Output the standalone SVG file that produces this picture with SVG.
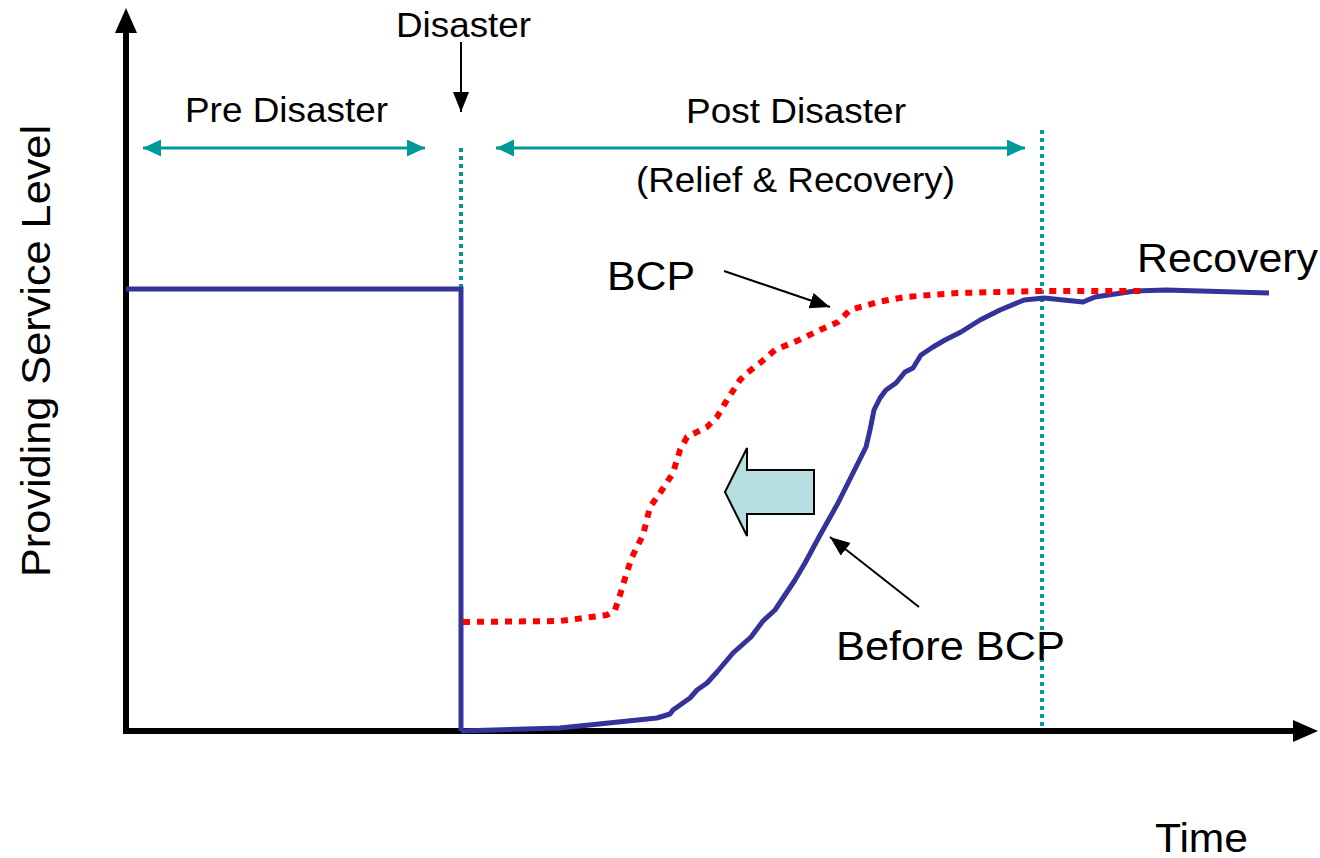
<svg xmlns="http://www.w3.org/2000/svg" width="1320" height="858" viewBox="0 0 1320 858">
<style>
text{font-family:"Liberation Sans",Arial,sans-serif;fill:#000}
.s{font-size:35px}
.b{font-size:40px}
.teal{stroke:#009999;stroke-width:3;fill:none}
.tdot{stroke:#009999;stroke-width:4;stroke-dasharray:4 4;fill:none}
.ptr{stroke:#000;stroke-width:2;fill:none}
</style>
<defs>
<marker id="tA" markerUnits="userSpaceOnUse" markerWidth="20" markerHeight="20" refX="18" refY="8.5" orient="auto-start-reverse" viewBox="0 0 20 20">
<path d="M0,0 L18,8.5 L0,17 z" fill="#009999"/>
</marker>
<marker id="bA" markerUnits="userSpaceOnUse" markerWidth="22" markerHeight="18" refX="20" refY="8" orient="auto" viewBox="0 0 22 18">
<path d="M0,0 L20,8 L0,16 z" fill="#000"/>
</marker>
</defs>
<rect width="1320" height="858" fill="#fff"/>
<g id="axes">
<line x1="126" y1="731" x2="126" y2="28" stroke="#000" stroke-width="6"/>
<path d="M126,8 L137,33 L115,33 z" fill="#000"/>
<line x1="123" y1="731" x2="1298" y2="731" stroke="#000" stroke-width="6"/>
<path d="M1318,731 L1293,720 L1293,742 z" fill="#000"/>
</g>
<g id="guides">
<line class="tdot" x1="461" y1="148" x2="461" y2="289"/>
<line class="tdot" x1="1042" y1="130" x2="1042" y2="730"/>
</g>
<g id="curves">
<path d="M126,289 H461 V731" fill="none" stroke="#333399" stroke-width="5"/>
<polyline fill="none" stroke="#333399" stroke-width="5" stroke-linejoin="round" points="461,731 560,728 657,718 670,714 673,710 690,698 697,690 707,683 717,672 733,653 751,637 763,621 775,610 785,595 795,580 805,563 819,537 838,503 852,475 866,447 870,430 874,410 880,398 886,390 896,383 905,372 913,368 921,355 933,347 945,340 961,332 980,320 1000,310 1024,300 1044,298 1083,302 1095,297 1135,291 1166,290 1269,293"/>
<polyline fill="none" stroke="#ff0000" stroke-width="6" stroke-dasharray="7 7" stroke-linejoin="round" points="463,622 560,621 607,615 615,610 620,595 626,575 632,557 643,535 650,507 660,493 673,473 680,450 687,437 707,427 717,417 727,400 740,380 747,373 760,363 775,350 799,340 820,330 838,322 850,310 878,302 905,297 957,293 1040,291 1143,291"/>
</g>
<g id="connectors">
<line class="teal" x1="143" y1="148" x2="425" y2="148" marker-start="url(#tA)" marker-end="url(#tA)"/>
<line class="teal" x1="496" y1="148" x2="1025" y2="148" marker-start="url(#tA)" marker-end="url(#tA)"/>
<line class="ptr" x1="461" y1="42" x2="461" y2="112" marker-end="url(#bA)"/>
<line class="ptr" x1="724" y1="271" x2="830" y2="307" marker-end="url(#bA)"/>
<line class="ptr" x1="919" y1="607" x2="830" y2="537" marker-end="url(#bA)"/>
</g>
<g id="shift-arrow">
<path d="M725,492 L747,448 L747,470 L814,470 L814,514 L747,514 L747,536 z" fill="#b7dfe2" stroke="#000" stroke-width="2" stroke-linejoin="miter"/>
</g>
<g id="labels">
<text class="s" x="396" y="37" textLength="135" lengthAdjust="spacingAndGlyphs">Disaster</text>
<text class="s" x="185" y="122" textLength="203" lengthAdjust="spacingAndGlyphs">Pre Disaster</text>
<text class="s" x="686" y="123" textLength="220" lengthAdjust="spacingAndGlyphs">Post Disaster</text>
<text class="s" x="636" y="192" textLength="319" lengthAdjust="spacingAndGlyphs">(Relief &amp; Recovery)</text>
<text class="b" x="607" y="290" textLength="88" lengthAdjust="spacingAndGlyphs">BCP</text>
<text class="b" x="1137" y="272" textLength="181" lengthAdjust="spacingAndGlyphs">Recovery</text>
<text class="b" x="836" y="660" textLength="229" lengthAdjust="spacingAndGlyphs">Before BCP</text>
<text class="b" x="1155" y="852" textLength="93" lengthAdjust="spacingAndGlyphs">Time</text>
<text class="b" transform="translate(50,351) rotate(-90)" text-anchor="middle" textLength="452" lengthAdjust="spacingAndGlyphs">Providing Service Level</text>
</g>
</svg>
